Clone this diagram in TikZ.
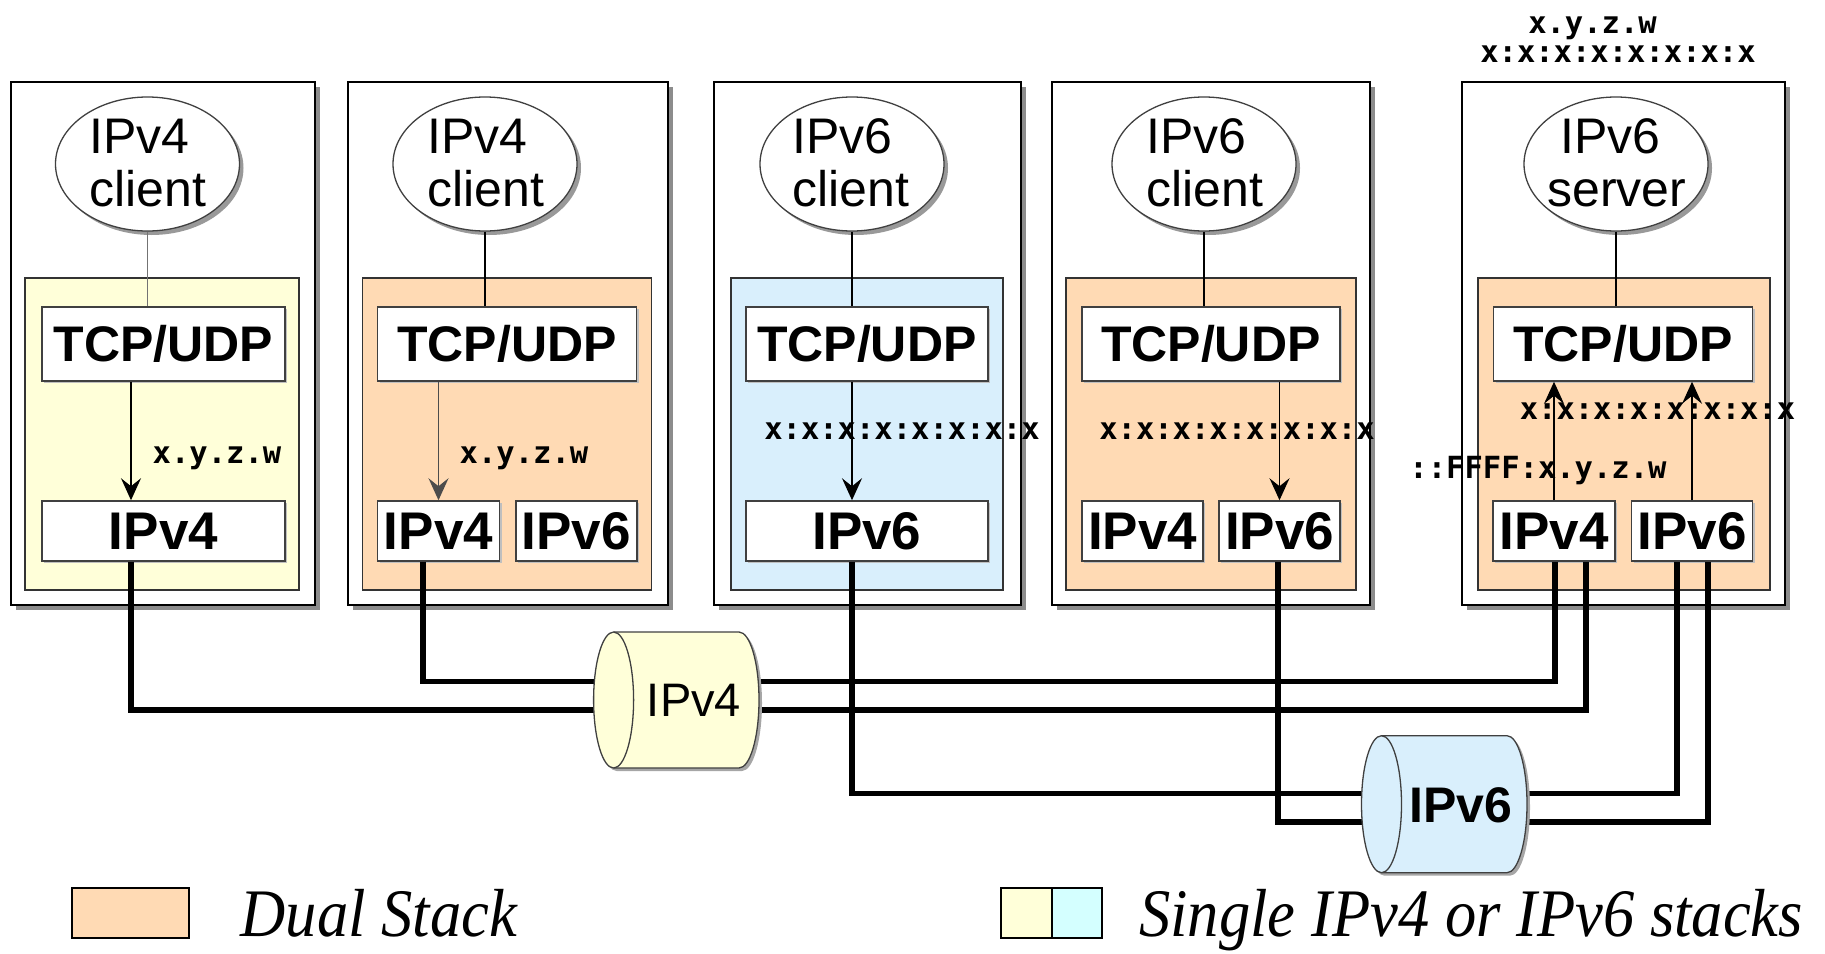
\documentclass[tikz,border=0pt]{standalone}
\usepackage{fontspec}
\setmainfont{Liberation Sans}
\newfontfamily\addrfont{DejaVu Sans Mono}
\newfontfamily\legfont{Liberation Serif}
\usetikzlibrary{shapes.geometric,arrows.meta,shadows}

\definecolor{peach}{RGB}{255,218,180}
\definecolor{lyellow}{RGB}{255,255,217}
\definecolor{lblue}{RGB}{217,239,252}
\definecolor{lcyan}{RGB}{212,255,255}

\tikzset{
  outerbox/.style={draw=black, line width=2pt, fill=white, inner sep=0pt,
    drop shadow={shadow xshift=5pt, shadow yshift=-5pt, fill=black!45, opacity=1}},
  stackbox/.style={draw=black!80, line width=1.8pt, inner sep=0pt},
  layerbox/.style={draw=black!75, line width=1.5pt, fill=white, inner sep=0pt,
    drop shadow={shadow xshift=2pt, shadow yshift=-2pt, fill=black!25, opacity=1}},
  appell/.style={ellipse, draw=black!75, line width=1.3pt, fill=white,
    minimum width=184pt, minimum height=134pt, inner sep=0pt,
    drop shadow={shadow xshift=4pt, shadow yshift=-4pt, fill=black!40, opacity=1}},
  ellt/.style={anchor=base west, inner sep=0pt, font=\fontsize{50}{60}\selectfont},
  tcpt/.style={inner sep=0pt, font=\bfseries\fontsize{50}{60}\selectfont},
  ipt/.style={inner sep=0pt, font=\bfseries\fontsize{53}{60}\selectfont},
  addr/.style={anchor=base, inner sep=0pt, font=\addrfont\bfseries\fontsize{30.5}{36}\selectfont},
  cylt/.style={anchor=base, inner sep=0pt},
  legt/.style={anchor=base west, inner sep=0pt, font=\legfont\itshape\fontsize{68}{74}\selectfont},
  legbox/.style={draw=black, line width=1.5pt, inner sep=0pt, minimum height=50pt},
  wire/.style={line width=5.5pt, line join=miter},
  thinline/.style={line width=1.6pt},
  arr/.style={-{Stealth[length=22pt,width=20pt,inset=8pt]}, line width=1.6pt},
  cylbody/.style={draw=black!75, line width=1.3pt}
}

\begin{document}
\begin{tikzpicture}[x=1pt,y=-1pt]
\useasboundingbox (0,0) rectangle (1825,953);

% ---------- outer host boxes ----------
\node[outerbox, minimum width=304pt, minimum height=523pt] (O1) at (163,343) {};
\node[outerbox, minimum width=320pt, minimum height=523pt] (O2) at (508,343) {};
\node[outerbox, minimum width=307pt, minimum height=523pt] (O3) at (867,343) {};
\node[outerbox, minimum width=318pt, minimum height=523pt] (O4) at (1210.5,343) {};
\node[outerbox, minimum width=323pt, minimum height=523pt] (O5) at (1623.5,343) {};

% ---------- stack areas ----------
\node[stackbox, fill=lyellow, minimum width=274pt, minimum height=312pt] (S1) at (162,434) {};
\node[stackbox, fill=peach, minimum width=289pt, minimum height=312pt] (S2) at (507,434) {};
\node[stackbox, fill=lblue, minimum width=272pt, minimum height=312pt] (S3) at (866.6,434) {};
\node[stackbox, fill=peach, minimum width=290pt, minimum height=312pt] (S4) at (1211,434) {};
\node[stackbox, fill=peach, minimum width=292pt, minimum height=312pt] (S5) at (1624,434) {};

% ---------- applications ----------
\node[appell] (E1) at (147.5,164) {};
\node[appell] (E2) at (485,164) {};
\node[appell] (E3) at (852,164) {};
\node[appell] (E4) at (1204,164) {};
\node[appell] (E5) at (1616,164) {};

\node[ellt] (E1a) at (89.5,153) {IPv4};
\node[ellt] (E1b) at (89.5,206) {client};
\node[ellt] (E2a) at (427,153) {IPv4};
\node[ellt] (E2b) at (427,206) {client};
\node[ellt] (E3a) at (792,153) {IPv6};
\node[ellt] (E3b) at (792,206) {client};
\node[ellt] (E4a) at (1146.5,153) {IPv6};
\node[ellt] (E4b) at (1146.5,206) {client};
\node[ellt] (E5a) at (1560,153) {IPv6};
\node[ellt] (E5b) at (1547,206) {server};

% ---------- TCP/UDP layers ----------
\node[layerbox, minimum width=243pt, minimum height=74pt] (T1) at (163.5,344) {};
\node[layerbox, minimum width=259pt, minimum height=74pt] (T2) at (507,344) {};
\node[layerbox, minimum width=242pt, minimum height=74pt] (T3) at (866.8,344) {};
\node[layerbox, minimum width=258pt, minimum height=74pt] (T4) at (1210.8,344) {};
\node[layerbox, minimum width=259pt, minimum height=74pt] (T5) at (1623,344) {};
\foreach \t in {T1,T2,T3,T4,T5}{\node[tcpt] at (\t) {TCP/UDP};}

% ---------- IP layers ----------
\node[layerbox, minimum width=243pt, minimum height=60pt] (P1) at (163.5,531) {};
\node[layerbox, minimum width=122pt, minimum height=60pt] (P2a) at (438.5,531) {};
\node[layerbox, minimum width=121pt, minimum height=60pt] (P2b) at (576.3,531) {};
\node[layerbox, minimum width=242pt, minimum height=60pt] (P3) at (866.8,531) {};
\node[layerbox, minimum width=121pt, minimum height=60pt] (P4a) at (1142.5,531) {};
\node[layerbox, minimum width=121pt, minimum height=60pt] (P4b) at (1279.5,531) {};
\node[layerbox, minimum width=122pt, minimum height=60pt] (P5a) at (1554,531) {};
\node[layerbox, minimum width=121pt, minimum height=60pt] (P5b) at (1692,531) {};
\foreach \p in {P1,P2a,P4a,P5a}{\node[ipt] at (\p) {IPv4};}
\foreach \p in {P2b,P3,P4b,P5b}{\node[ipt] at (\p) {IPv6};}

% ---------- app to TCP links ----------
\draw[thinline, black!55] (E1.south) -- (T1.north -| E1.south);
\draw[thinline] (E2.south) -- (T2.north -| E2.south);
\draw[thinline] (E3.south) -- (T3.north -| E3.south);
\draw[thinline] (E4.south) -- (T4.north -| E4.south);
\draw[thinline] (E5.south) -- (T5.north -| E5.south);

% ---------- TCP to IP arrows ----------
\coordinate (a1) at (131,0);
\coordinate (a3) at (852,0);
\draw[arr] (T1.south -| a1) -- (P1.north -| a1);
\draw[arr, black!70] (T2.south -| P2a.north) -- (P2a.north);
\draw[arr] (T3.south -| a3) -- (P3.north -| a3);
\draw[arr] (T4.south -| P4b.north) -- (P4b.north);
\draw[arr] (P5a.north) -- (T5.south -| P5a.north);
\draw[arr] (P5b.north) -- (T5.south -| P5b.north);

% ---------- address labels ----------
\node[addr] (L1) at (217,463) {x.y.z.w};
\node[addr] (L2) at (524,463) {x.y.z.w};
\node[addr] (L3) at (902,439) {x:x:x:x:x:x:x:x};
\node[addr] (L4) at (1237,439) {x:x:x:x:x:x:x:x};
\node[addr] (L5) at (1657.5,419) {x:x:x:x:x:x:x:x};
\node[addr] (L6) at (1538,478) {::FFFF:x.y.z.w};
\node[addr] (L7) at (1592.5,33) {x.y.z.w};
\node[addr] (L8) at (1618,62) {x:x:x:x:x:x:x:x};

% ---------- wires ----------
\coordinate (wx1) at (131,0);
\coordinate (wx2) at (423,0);
\coordinate (wx3) at (852,0);
\coordinate (wx4) at (1278,0);
\coordinate (wx5a) at (1555,0);
\coordinate (wx5b) at (1586,0);
\coordinate (wx5c) at (1677,0);
\coordinate (wx5d) at (1708,0);
\coordinate (bus4a) at (600,681.5);
\coordinate (bus4b) at (600,710);
\coordinate (bus6a) at (1400,793.6);
\coordinate (bus6b) at (1400,822);

\draw[wire] (P2a.south -| wx2) |- (bus4a) -| (P5a.south -| wx5a);
\draw[wire] (P1.south -| wx1) |- (bus4b) -| (P5a.south -| wx5b);
\draw[wire] (P3.south -| wx3) |- (bus6a) -| (P5b.south -| wx5c);
\draw[wire] (P4b.south -| wx4) |- (bus6b) -| (P5b.south -| wx5d);

% ---------- IPv4 network cylinder ----------
\fill[black!35] (616.6,635) -- (742,635) arc[start angle=90,end angle=-90,x radius=20pt,y radius=68pt]
  -- (616.6,771) arc[start angle=270,end angle=90,x radius=20pt,y radius=68pt] -- cycle;
\filldraw[cylbody, fill=lyellow] (613.6,632) -- (739,632) arc[start angle=90,end angle=-90,x radius=20pt,y radius=68pt]
  -- (613.6,768) arc[start angle=270,end angle=90,x radius=20pt,y radius=68pt] -- cycle;
\draw[cylbody] (613.6,632) arc[start angle=90,end angle=-90,x radius=20pt,y radius=68pt];
\node[cylt, font=\fontsize{47}{56}\selectfont] (C4) at (694,716) {IPv4};

% ---------- IPv6 network cylinder ----------
\fill[black!35] (1384.5,738.7) -- (1510,738.7) arc[start angle=90,end angle=-90,x radius=20pt,y radius=68.5pt]
  -- (1384.5,875.7) arc[start angle=270,end angle=90,x radius=20pt,y radius=68.5pt] -- cycle;
\filldraw[cylbody, fill=lblue] (1381.5,735.7) -- (1507,735.7) arc[start angle=90,end angle=-90,x radius=20pt,y radius=68.5pt]
  -- (1381.5,872.7) arc[start angle=270,end angle=90,x radius=20pt,y radius=68.5pt] -- cycle;
\draw[cylbody] (1381.5,735.7) arc[start angle=90,end angle=-90,x radius=20pt,y radius=68.5pt];
\node[cylt, font=\bfseries\fontsize{50}{56}\selectfont] (C6) at (1461,822) {IPv6};

% ---------- legend ----------
\node[legbox, fill=peach, minimum width=117pt] (G1) at (130.5,913) {};
\node[legt] (G1t) at (240.5,936) {\scalebox{0.92}[1]{Dual Stack}};
\node[legbox, fill=lyellow, minimum width=51pt] (G2a) at (1026.5,913) {};
\node[legbox, fill=lcyan, minimum width=50pt] (G2b) at (1077,913) {};
\node[legt] (G2t) at (1139,936) {\scalebox{0.92}[1]{Single IPv4 or IPv6 stacks}};
\end{tikzpicture}
\end{document}
